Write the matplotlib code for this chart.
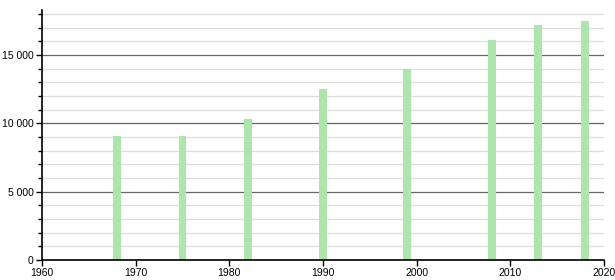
import matplotlib
matplotlib.use("Agg")
import matplotlib.pyplot as plt
from matplotlib.ticker import MultipleLocator, FuncFormatter

years = [1968, 1975, 1982, 1990, 1999, 2008, 2013, 2018]
population = [9080, 9080, 10300, 12520, 14000, 16100, 17200, 17480]
x_ticks = [1960, 1970, 1980, 1990, 2000, 2010, 2020]

plt.rcParams['font.family'] = ['Liberation Sans', 'DejaVu Sans']

fig = plt.figure(figsize=(6.15, 2.8), dpi=100)
ax = fig.add_axes([42/615, 20/280, (604-42)/615, 250/280])

ax.bar(years, population, width=0.85, color='#ade5ad', zorder=3, linewidth=0)

ax.set_xlim(1960, 2020)
ax.set_ylim(0, 18300)
ax.set_xticks(x_ticks)
ax.yaxis.set_major_locator(MultipleLocator(5000))
ax.yaxis.set_minor_locator(MultipleLocator(1000))
ax.yaxis.set_major_formatter(FuncFormatter(lambda v, p: f"{int(v):,}".replace(",", " ")))

ax.grid(axis='y', which='major', color='#666666', linewidth=0.9, zorder=1)
ax.grid(axis='y', which='minor', color='#dddddd', linewidth=0.9, zorder=0)

for s in ['top', 'right']:
    ax.spines[s].set_visible(False)
for s in ['left', 'bottom']:
    ax.spines[s].set_color('black')
    ax.spines[s].set_linewidth(1.2)
    ax.spines[s].set_zorder(4)

ax.tick_params(axis='both', which='major', labelsize=7.5, length=4, width=1, color='black', pad=2)
ax.tick_params(axis='y', which='minor', length=3, width=1, color='black')
ax.tick_params(axis='x', which='minor', length=0)

fig.savefig("out.png", dpi=100)
